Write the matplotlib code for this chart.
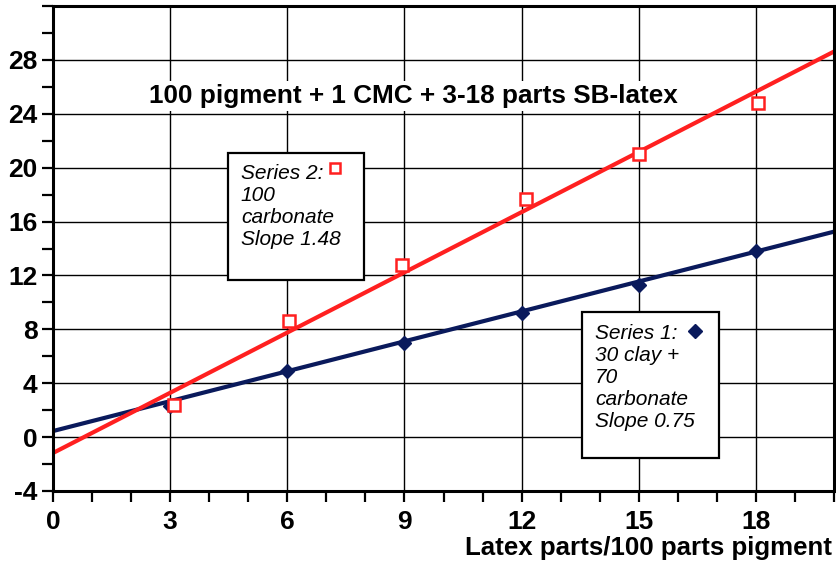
import numpy as np
import matplotlib.pyplot as plt
from matplotlib.patches import Rectangle
from matplotlib.ticker import MultipleLocator

plt.rcParams['font.family'] = ['Liberation Sans', 'DejaVu Sans']

# data
latex_parts = [3, 6, 9, 12, 15, 18]
s1_values = [2.3, 4.9, 7.0, 9.2, 11.3, 13.8]   # 30 clay + 70 carbonate
s2_values = [2.4, 8.6, 12.8, 17.7, 21.0, 24.8]  # 100 carbonate
s2_x = [3.1, 6.05, 8.95, 12.1, 15.0, 18.05]
s1_fit = (0.74, 0.45)   # slope, intercept
s2_fit = (1.49, -1.18)
x_ticks = [0, 3, 6, 9, 12, 15, 18]
y_ticks = [-4, 0, 4, 8, 12, 16, 20, 24, 28]
navy = '#0a1a5c'
red = '#ff2020'

fig = plt.figure(figsize=(8.36, 5.67), dpi=100)
ax = fig.add_axes([53/836, 1-491/567, (834-53)/836, (491-6)/567])

ax.set_xlim(0, 20)
ax.set_ylim(-4, 32)
ax.xaxis.set_minor_locator(MultipleLocator(1))
ax.yaxis.set_minor_locator(MultipleLocator(2))
ax.set_xticks(x_ticks)
ax.set_xticklabels([str(v) for v in x_ticks], fontweight='bold')
ax.set_yticks(y_ticks + [32])
ax.set_yticklabels([str(v) for v in y_ticks] + [''], fontweight='bold')
ax.grid(True, which='major', color='black', lw=1.0, zorder=0)
ax.tick_params(which='both', direction='out', length=8, width=1.6, colors='black')
ax.tick_params(which='major', labelsize=19, pad=3)
ax.tick_params(axis='x', which='major', pad=6)
for sp in ax.spines.values():
    sp.set_linewidth(2.2)
    sp.set_zorder(5)

xx = np.array([0, 20])
ax.plot(xx, s1_fit[0] * xx + s1_fit[1], color=navy, lw=3, zorder=3)
ax.plot(xx, s2_fit[0] * xx + s2_fit[1], color=red, lw=3, zorder=3)
ax.plot(latex_parts, s1_values, 'D', color=navy, ms=7, zorder=4)
ax.plot(s2_x, s2_values, 's', mfc='white', mec=red, mew=1.8, ms=8, zorder=4)

ax.text(9.24, 25.3, '100 pigment + 1 CMC + 3-18 parts SB-latex', ha='center', va='center',
        fontsize=18.8, fontweight='bold', zorder=4,
        bbox=dict(facecolor='white', edgecolor='none', pad=2))

# annotation boxes
ax.add_patch(Rectangle((4.48, 11.66), 3.48, 9.43, facecolor='white', edgecolor='black', lw=1.6, zorder=4))
ax.text(4.81, 20.3, 'Series 2:\n100\ncarbonate\nSlope 1.48', ha='left', va='top',
        fontsize=15, fontstyle='italic', linespacing=1.2, zorder=5)
ax.plot([7.22], [19.95], 's', mfc='white', mec=red, mew=1.8, ms=7, zorder=6)

ax.add_patch(Rectangle((13.55, -1.55), 3.5, 10.84, facecolor='white', edgecolor='black', lw=1.6, zorder=4))
ax.text(13.88, 8.4, 'Series 1:\n30 clay +\n70\ncarbonate\nSlope 0.75', ha='left', va='top',
        fontsize=15, fontstyle='italic', linespacing=1.2, zorder=5)
ax.plot([16.45], [7.9], 'D', color=navy, ms=7, zorder=6)

fig.text(832/836, 1-548/567, 'Latex parts/100 parts pigment', ha='right', va='center',
         fontsize=18.6, fontweight='bold')

fig.savefig('out.png', dpi=100)
